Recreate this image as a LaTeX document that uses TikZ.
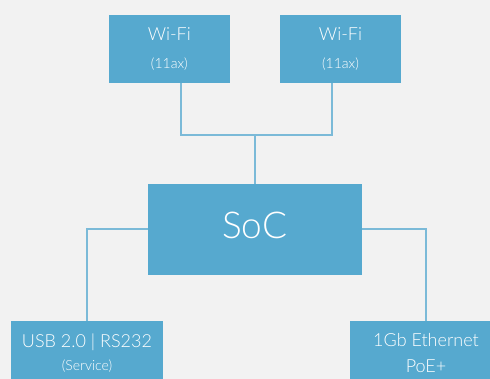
\documentclass[tikz,border=0pt]{standalone}
\usepackage{fontspec}
\setmainfont{Lato}[UprightFont={* Light}]
\usepackage{xcolor}
\usepackage{tikz}
\usetikzlibrary{positioning}

\definecolor{boxblue}{HTML}{56A9CF}
\definecolor{lineblue}{HTML}{7BBAD8}
\definecolor{bggray}{HTML}{F2F2F2}

\begin{document}
\begin{tikzpicture}
        % Define styles
        \tikzset{
            block/.style={rectangle, fill=boxblue, text=white, align=center, inner sep=0pt},
            wifi/.style={block, minimum width=120.7pt, minimum height=67.7pt, font=\fontsize{18}{28}\selectfont},
            port/.style={block, minimum width=152pt, minimum height=64pt, font=\fontsize{18}{26}\selectfont},
            link/.style={draw=lineblue, line width=1.6pt}
        }

        % Background
        \fill [bggray] (0,0) rectangle (490pt,-379pt);
        \clip (0,0) rectangle (490pt,-379pt);

        % Create nodes
        \node [block, minimum width=213.7pt, minimum height=90.7pt, text depth=8pt, font=\fontsize{37}{40}\selectfont] (soc) at (254.8pt,-229.3pt) {SoC};
        \node [wifi, above of=soc, xshift=-85.5pt, node distance=180.5pt] (wifiL) {Wi-Fi\\{\fontsize{14}{28}\selectfont (11ax)}};
        \node [wifi, above of=soc, xshift=85.7pt, node distance=180.5pt] (wifiR) {Wi-Fi\\{\fontsize{14}{28}\selectfont (11ax)}};
        \node [port, below of=soc, xshift=-167.8pt, node distance=123.7pt] (usb) {USB 2.0 | RS232\\[-2.5pt]{\fontsize{14}{26}\selectfont (Service)}};
        \node [port, below of=soc, xshift=171.2pt, node distance=123.7pt] (eth) {1Gb Ethernet\\PoE+};

        % Create connectors
        \coordinate [above=48.5pt of soc.north] (hub);
        \draw [link] ([xshift=11.4pt]wifiL.south) |- (hub) -| ([xshift=-8.8pt]wifiR.south);
        \draw [link] (hub) -- (soc.north);
        \draw [link] (soc.west) -| (usb.north);
        \draw [link] (soc.east) -| (eth.north);
    \end{tikzpicture}
\end{document}
